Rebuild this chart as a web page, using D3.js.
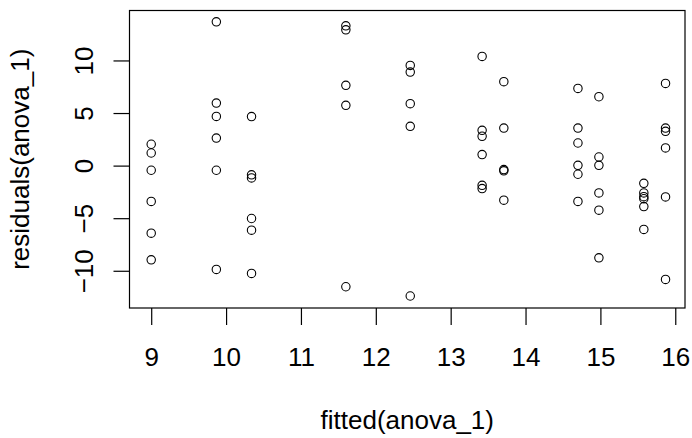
<!DOCTYPE html>
<html>
<head>
<meta charset="utf-8">
<script src="https://cdn.jsdelivr.net/npm/d3@7/dist/d3.min.js"></script>
<style>
    body { margin: 0; background: #fff; }
    svg text { font-family: Arial, "Liberation Sans", sans-serif; fill: #000; }
</style>
</head>
<body>
<div id="body"></div>
<script>
// fitted value of each group (one level per group)
var fittedLevels = [9.00, 9.87, 10.34, 11.60, 12.46, 13.42, 13.71, 14.70, 14.98, 15.58, 15.87];
// residuals, one list per group
var residualGroups = [
    [2.03, 1.20, -0.44, -3.41, -6.42, -8.96],
    [13.67, 5.95, 4.68, 2.62, -0.44, -9.87],
    [4.66, -0.88, -1.17, -5.03, -6.14, -10.25],
    [13.29, 12.91, 7.63, 5.73, -11.52],
    [9.53, 8.89, 5.89, 3.74, -12.40],
    [10.38, 3.36, 2.79, 1.05, -1.87, -2.18],
    [7.98, 3.57, -0.38, -0.50, -3.29],
    [7.34, 3.57, 2.15, 0.03, -0.82, -3.41],
    [6.55, 0.82, 0.03, -2.60, -4.24, -8.77],
    [-1.68, -2.60, -2.95, -3.15, -3.90, -6.07],
    [7.82, 3.57, 3.26, 1.68, -2.98, -10.82]
];
var xTicks = [9, 10, 11, 12, 13, 14, 15, 16];
var yTicks = [-10, -5, 0, 5, 10];
var xLabel = 'fitted(anova_1)';
var yLabel = 'residuals(anova_1)';

var width = 692, height = 438;
var margins = {left: 129.5, right: 7, top: 10.5, bottom: 130};
var w = width - margins.left - margins.right;
var h = height - margins.top - margins.bottom;

var points = [];
fittedLevels.forEach((f, i) => {
    residualGroups[i].forEach(r => points.push({fitted: f, resid: r}));
});

var x = d3.scaleLinear().domain([8.71, 16.13]).range([0, w]);
var y = d3.scaleLinear().domain([-13.54, 14.75]).range([h, 0]);

var svg = d3.select('#body')
    .append('svg')
    .attr('width', width)
    .attr('height', height);

var g = svg.append('g')
    .attr('transform', `translate(${margins.left},${margins.top})`);

// x axis
var xAxis = g.append('g')
    .attr('transform', `translate(0,${h})`)
    .call(d3.axisBottom(x).tickValues(xTicks).tickSize(17).tickFormat(d3.format('d')));
xAxis.select('.domain').remove();
xAxis.selectAll('line').attr('stroke', '#000').attr('stroke-width', 1.2);
xAxis.selectAll('text')
    .attr('y', 57.5)
    .attr('dy', 0)
    .style('font-size', '26px');

// y axis, labels turned like R does
var yAxis = g.append('g')
    .call(d3.axisLeft(y).tickValues(yTicks).tickSize(16).tickFormat(d3.format('d')));
yAxis.select('.domain').remove();
yAxis.selectAll('line').attr('stroke', '#000').attr('stroke-width', 1.2);
yAxis.selectAll('text')
    .attr('x', 0)
    .attr('dy', 0)
    .attr('text-anchor', 'middle')
    .attr('transform', 'translate(-37,0) rotate(-90)')
    .style('font-size', '26px');

// box
g.append('rect')
    .attr('x', 0)
    .attr('y', 0)
    .attr('width', w)
    .attr('height', h)
    .attr('fill', 'none')
    .attr('stroke', '#000')
    .attr('stroke-width', 1.2);

// points
g.selectAll('circle.pt')
    .data(points)
    .enter()
    .append('circle')
    .attr('class', 'pt')
    .attr('cx', d => x(d.fitted))
    .attr('cy', d => y(d.resid))
    .attr('r', 4.2)
    .attr('fill', 'none')
    .attr('stroke', '#000')
    .attr('stroke-width', 1.1);

// axis titles
svg.append('text')
    .attr('x', margins.left + w / 2)
    .attr('y', 428.5)
    .attr('text-anchor', 'middle')
    .style('font-size', '26px')
    .text(xLabel);

svg.append('text')
    .attr('transform', `translate(29,${margins.top + h / 2}) rotate(-90)`)
    .attr('text-anchor', 'middle')
    .style('font-size', '26px')
    .text(yLabel);
</script>
</body>
</html>
